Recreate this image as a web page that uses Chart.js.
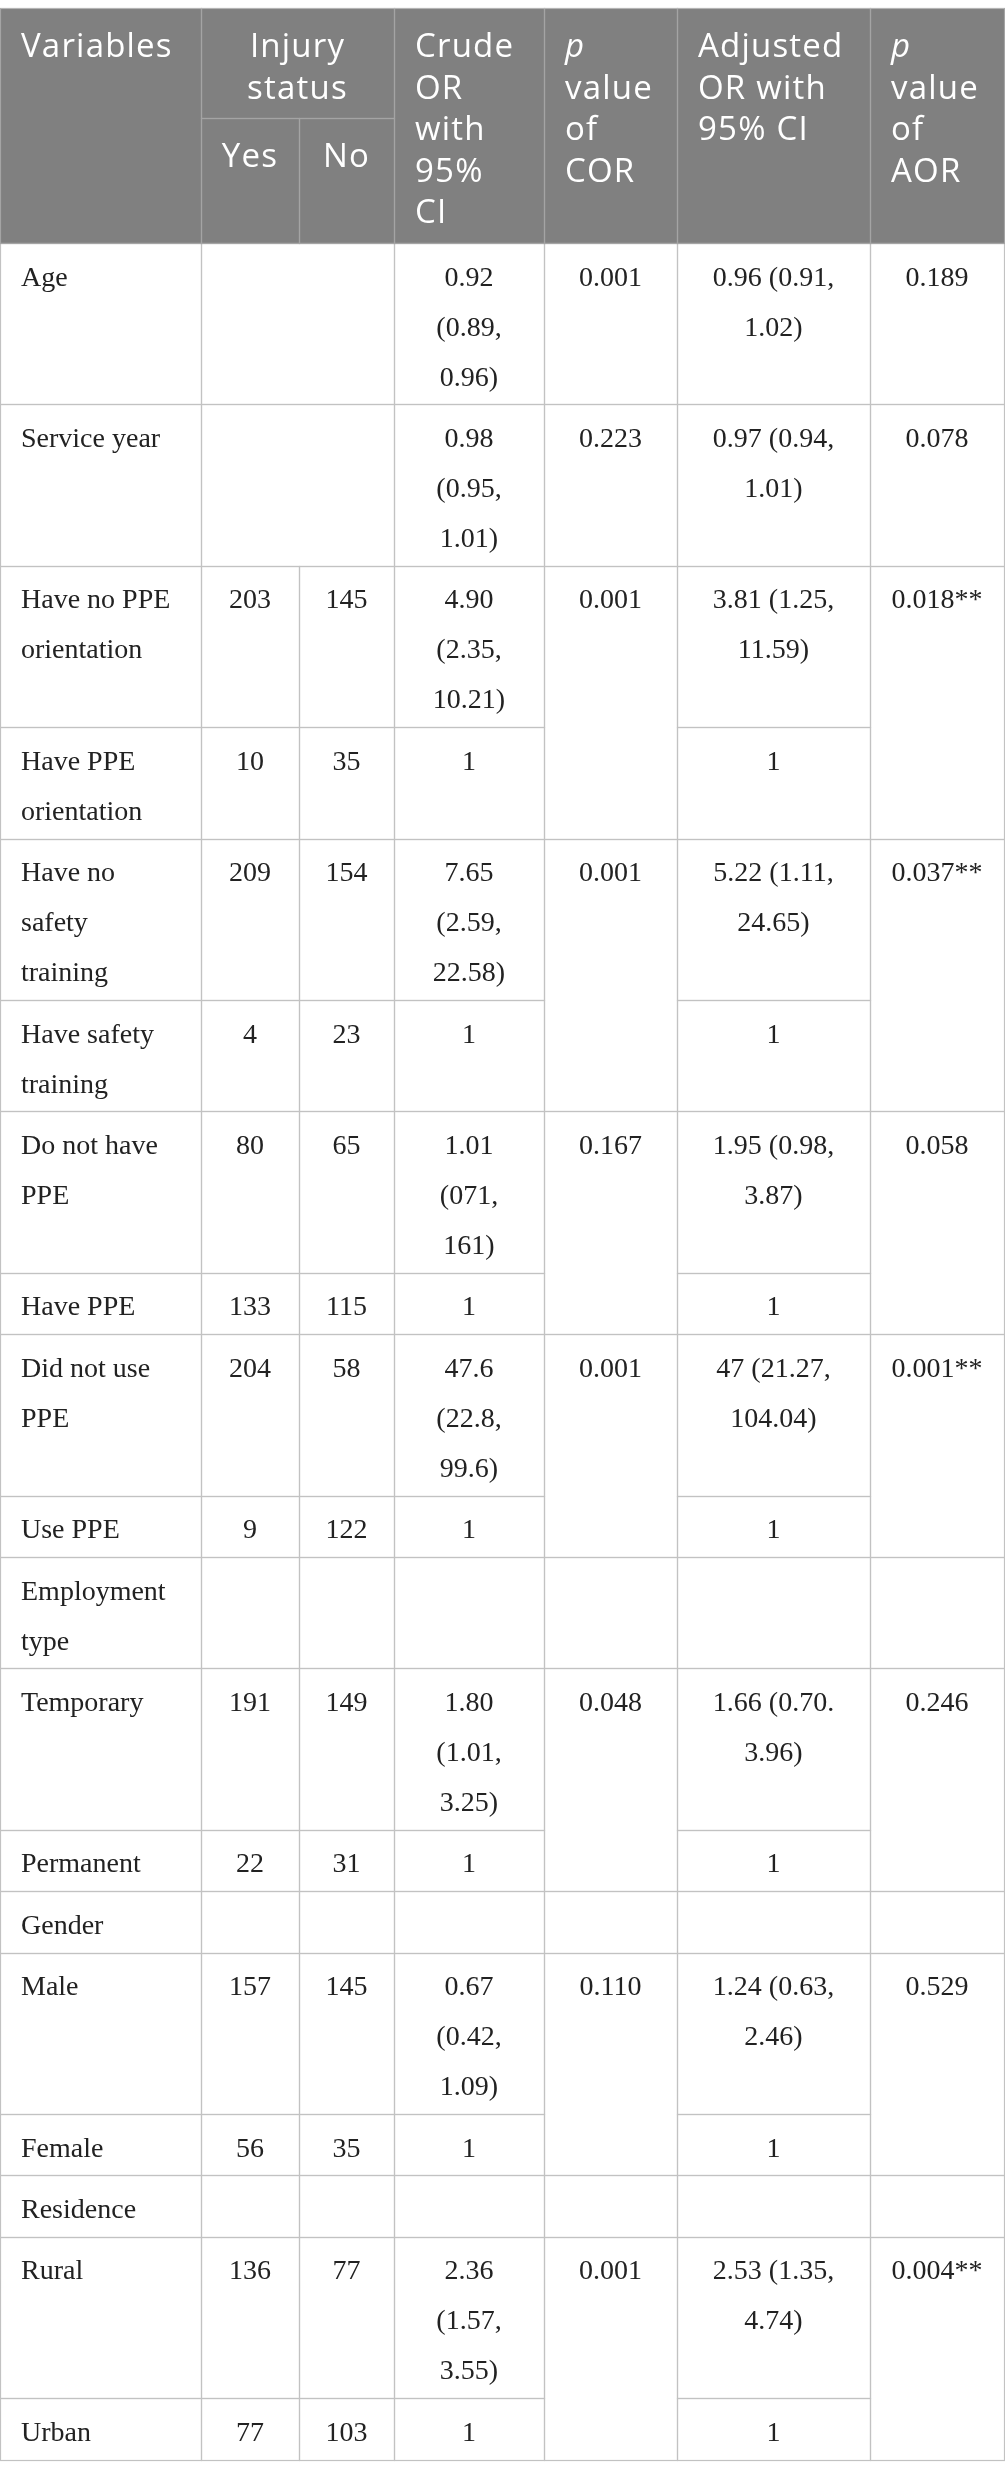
<!DOCTYPE html>
<html>
<head>
<meta charset="utf-8">
<script src="https://cdn.jsdelivr.net/npm/chart.js@4.4.1/dist/chart.umd.min.js"></script>
<style>
  html, body { margin: 0; padding: 0; background: #fff; }
  #wrap { width: 1005px; height: 2478px; position: relative; }
</style>
</head>
<body>
<div id="wrap"><canvas id="table"></canvas></div>
<script>
// Table contents, one entry per body row
const variables = ['Age', 'Service year', 'Have no PPE orientation', 'Have PPE orientation',
    'Have no safety training', 'Have safety training', 'Do not have PPE', 'Have PPE',
    'Did not use PPE', 'Use PPE', 'Employment type', 'Temporary', 'Permanent', 'Gender',
    'Male', 'Female', 'Residence', 'Rural', 'Urban'];
const injuredYes = [null, null, 203, 10, 209, 4, 80, 133, 204, 9, null, 191, 22, null, 157, 56, null, 136, 77];
const injuredNo = [null, null, 145, 35, 154, 23, 65, 115, 58, 122, null, 149, 31, null, 145, 35, null, 77, 103];
const crudeOR = ['0.92 (0.89, 0.96)', '0.98 (0.95, 1.01)', '4.90 (2.35, 10.21)', '1',
    '7.65 (2.59, 22.58)', '1', '1.01 (071, 161)', '1', '47.6 (22.8, 99.6)', '1', '',
    '1.80 (1.01, 3.25)', '1', '', '0.67 (0.42, 1.09)', '1', '', '2.36 (1.57, 3.55)', '1'];
// null = merged with the cell above
const pCOR = ['0.001', '0.223', '0.001', null, '0.001', null, '0.167', null, '0.001', null, '',
    '0.048', null, '', '0.110', null, '', '0.001', null];
const adjustedOR = ['0.96 (0.91, 1.02)', '0.97 (0.94, 1.01)', '3.81 (1.25, 11.59)', '1',
    '5.22 (1.11, 24.65)', '1', '1.95 (0.98, 3.87)', '1', '47 (21.27, 104.04)', '1', '',
    '1.66 (0.70. 3.96)', '1', '', '1.24 (0.63, 2.46)', '1', '', '2.53 (1.35, 4.74)', '1'];
const pAOR = ['0.189', '0.078', '0.018**', null, '0.037**', null, '0.058', null, '0.001**', null, '',
    '0.246', null, '', '0.529', null, '', '0.004**', null];

// Header labels (multi-line, like Chart.js array labels)
const headerLabels = [['Variables'], ['Injury', 'status'], ['Crude', 'OR', 'with', '95%', 'CI'],
    ['p', 'value', 'of', 'COR'], ['Adjusted', 'OR with', '95% CI'], ['p', 'value', 'of', 'AOR']];
const subLabels = ['Yes', 'No'];

// Layout
const colWidths = [201, 98, 95, 150, 133, 193, 134];
const wrapWidths = [158, 70, 70, 92, 105, 155, 110];
const tableTop = 8;
const headerHeight = 235;
const subHeaderTop = 110;
const headLineGap = 41.5;
const headBaseline = 49;
const bodyLineGap = 50;
const bodyBaseline = 42.5;
const rowPad = 11.4;
const padLeft = 21;

const HEAD_FONT = '33px "Open Sans", "Noto Sans", sans-serif';
const HEAD_FONT_ITALIC = 'italic 33px "Open Sans", "Noto Sans", sans-serif';
const BODY_FONT = '28px "Liberation Serif", "Times New Roman", serif';

const colEdges = [0];
colWidths.forEach(w => colEdges.push(colEdges[colEdges.length - 1] + w));
const tableRight = colEdges[colEdges.length - 1];

const measureCtx = document.createElement('canvas').getContext('2d');
const wrapText = (text, font, maxW) => {
    if (text === null || text === undefined || text === '') return [];
    measureCtx.font = font;
    const words = String(text).split(' ');
    const lines = [];
    let cur = '';
    words.forEach(w => {
        const test = cur ? cur + ' ' + w : w;
        if (cur && measureCtx.measureText(test).width > maxW) {
            lines.push(cur);
            cur = w;
        } else {
            cur = test;
        }
    });
    if (cur) lines.push(cur);
    return lines;
};

// Build cell list
const cells = [];
const addHeader = (c0, c1, y0, y1, lines, align) => {
    cells.push({ c0, c1, y0, y1, lines, align, header: true,
        ax: align === 'left' ? colEdges[c0] + padLeft : (colEdges[c0] + colEdges[c1 + 1]) / 2,
        ay: y0 + headBaseline });
};
const hTop = tableTop, hBot = tableTop + headerHeight, hSplit = tableTop + subHeaderTop;
addHeader(0, 0, hTop, hBot, headerLabels[0], 'left');
addHeader(1, 2, hTop, hSplit, headerLabels[1], 'center');
addHeader(1, 1, hSplit, hBot, [subLabels[0]], 'center');
addHeader(2, 2, hSplit, hBot, [subLabels[1]], 'center');
addHeader(3, 3, hTop, hBot, headerLabels[2], 'left');
addHeader(4, 4, hTop, hBot, headerLabels[3], 'left');
addHeader(5, 5, hTop, hBot, headerLabels[4], 'left');
addHeader(6, 6, hTop, hBot, headerLabels[5], 'left');

let rowTop = hBot;
const lastCellInCol = {};
variables.forEach((name, r) => {
    const isGroup = crudeOR[r] === '';
    const isContinuous = injuredYes[r] === null && !isGroup;
    const rowCells = [];
    const put = (c0, c1, text, align) => {
        const lines = wrapText(text, BODY_FONT, c0 === c1 ? wrapWidths[c0] : colWidths[c0] + colWidths[c1] - 30);
        const cell = { c0, c1, lines, align, header: false };
        rowCells.push(cell);
        lastCellInCol[c0] = cell;
    };
    put(0, 0, name, 'left');
    if (isContinuous) {
        put(1, 2, '', 'center');
    } else {
        put(1, 1, injuredYes[r] === null ? '' : injuredYes[r], 'center');
        put(2, 2, injuredNo[r] === null ? '' : injuredNo[r], 'center');
    }
    put(3, 3, crudeOR[r], 'center');
    const merged = [];
    if (pCOR[r] === null) merged.push(lastCellInCol[4]); else put(4, 4, pCOR[r], 'center');
    put(5, 5, adjustedOR[r], 'center');
    if (pAOR[r] === null) merged.push(lastCellInCol[6]); else put(6, 6, pAOR[r], 'center');

    const nLines = Math.max(1, ...rowCells.map(c => c.lines.length));
    const rowBot = rowTop + rowPad + bodyLineGap * nLines;
    rowCells.forEach(c => {
        c.y0 = rowTop;
        c.y1 = rowBot;
        c.ax = c.align === 'left' ? colEdges[c.c0] + padLeft : (colEdges[c.c0] + colEdges[c.c1 + 1]) / 2;
        c.ay = rowTop + bodyBaseline;
        cells.push(c);
    });
    merged.forEach(c => { c.y1 = rowBot; });
    rowTop = rowBot;
});

// Plugin that draws the grid and the cell texts at the dataset points
const tablePlugin = {
    id: 'tableGrid',
    beforeDatasetsDraw(chart) {
        const { ctx, scales: { x, y } } = chart;
        const px = v => Math.round(x.getPixelForValue(v)) + 0.5;
        const py = v => Math.round(y.getPixelForValue(v)) + 0.5;
        ctx.save();
        ctx.fillStyle = '#808080';
        ctx.fillRect(px(0), py(hTop), px(tableRight) - px(0), py(hBot) - py(hTop));
        ctx.lineWidth = 1.2;
        cells.filter(c => !c.header).forEach(c => {
            ctx.strokeStyle = '#c2c2c2';
            ctx.strokeRect(px(colEdges[c.c0]), py(c.y0), px(colEdges[c.c1 + 1]) - px(colEdges[c.c0]), py(c.y1) - py(c.y0));
        });
        cells.filter(c => c.header).forEach(c => {
            ctx.strokeStyle = '#a4a4a4';
            ctx.strokeRect(px(colEdges[c.c0]), py(c.y0), px(colEdges[c.c1 + 1]) - px(colEdges[c.c0]), py(c.y1) - py(c.y0));
        });
        ctx.strokeStyle = '#b4b4b4';
        ctx.beginPath();
        ctx.moveTo(px(0), py(hTop));
        ctx.lineTo(px(tableRight), py(hTop));
        ctx.stroke();
        ctx.restore();
    },
    afterDatasetsDraw(chart) {
        const { ctx, scales: { y } } = chart;
        const meta = chart.getDatasetMeta(0);
        ctx.save();
        ctx.textBaseline = 'alphabetic';
        meta.data.forEach((pt, i) => {
            const c = cells[i];
            const gap = c.header ? headLineGap : bodyLineGap;
            const gapPx = y.getPixelForValue(gap) - y.getPixelForValue(0);
            ctx.textAlign = c.align;
            ctx.fillStyle = c.header ? '#ffffff' : '#222222';
            c.lines.forEach((ln, j) => {
                if (c.header) {
                    ctx.font = ln === 'p' ? HEAD_FONT_ITALIC : HEAD_FONT;
                    if ('letterSpacing' in ctx) ctx.letterSpacing = '1.2px';
                } else {
                    ctx.font = BODY_FONT;
                    if ('letterSpacing' in ctx) ctx.letterSpacing = '0px';
                }
                ctx.fillText(String(ln), pt.x, pt.y + j * gapPx);
            });
        });
        ctx.restore();
    }
};

new Chart(document.getElementById('table'), {
    type: 'scatter',
    data: {
        datasets: [{
            data: cells.map(c => ({ x: c.ax, y: c.ay })),
            pointRadius: 0,
            pointHoverRadius: 0
        }]
    },
    options: {
        responsive: true,
        maintainAspectRatio: false,
        animation: false,
        events: [],
        layout: { padding: 0 },
        plugins: {
            legend: { display: false },
            tooltip: { enabled: false }
        },
        scales: {
            x: { type: 'linear', min: 0, max: 1005, display: false },
            y: { type: 'linear', min: 0, max: 2478, reverse: true, display: false }
        }
    },
    plugins: [tablePlugin]
});
</script>
</body>
</html>
